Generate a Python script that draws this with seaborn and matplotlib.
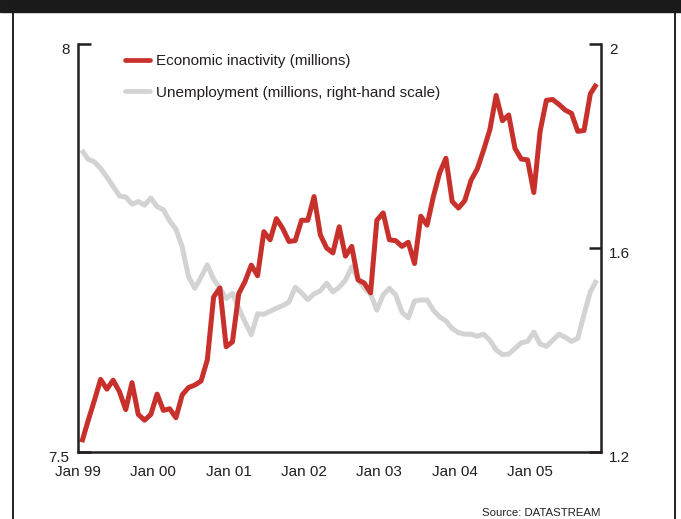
import numpy as np
import pandas as pd
import matplotlib
matplotlib.use("Agg")
import matplotlib.pyplot as plt
import seaborn as sns
from matplotlib.lines import Line2D
from matplotlib.patches import Rectangle
from matplotlib.transforms import ScaledTranslation

# ---- data (monthly, Jan 99 .. Nov 05) ----
inactivity = [7.512, 7.538, 7.563, 7.589, 7.577, 7.588, 7.574, 7.552, 7.585, 7.546,
              7.539, 7.546, 7.571, 7.551, 7.553, 7.542, 7.570, 7.579, 7.582, 7.587,
              7.613, 7.690, 7.701, 7.629, 7.635, 7.694, 7.709, 7.729, 7.716, 7.770,
              7.760, 7.786, 7.774, 7.758, 7.759, 7.784, 7.784, 7.813, 7.766, 7.750,
              7.744, 7.776, 7.740, 7.752, 7.711, 7.707, 7.695, 7.784, 7.793, 7.760,
              7.759, 7.752, 7.757, 7.731, 7.789, 7.778, 7.813, 7.842, 7.860, 7.807,
              7.799, 7.808, 7.833, 7.847, 7.870, 7.895, 7.937, 7.906, 7.913, 7.872,
              7.859, 7.858, 7.818, 7.893, 7.931, 7.932, 7.926, 7.919, 7.915, 7.893,
              7.894, 7.939, 7.951]
unemployment = [1.792, 1.774, 1.769, 1.756, 1.739, 1.721, 1.702, 1.700, 1.686, 1.691,
                1.684, 1.698, 1.681, 1.675, 1.653, 1.637, 1.602, 1.544, 1.521, 1.543,
                1.567, 1.539, 1.521, 1.501, 1.511, 1.482, 1.455, 1.430, 1.471, 1.470,
                1.476, 1.482, 1.487, 1.494, 1.523, 1.512, 1.499, 1.510, 1.516, 1.531,
                1.514, 1.523, 1.537, 1.563, 1.539, 1.521, 1.510, 1.478, 1.508, 1.521,
                1.508, 1.474, 1.463, 1.496, 1.498, 1.498, 1.478, 1.465, 1.457, 1.442,
                1.434, 1.431, 1.431, 1.427, 1.431, 1.419, 1.400, 1.391, 1.392, 1.403,
                1.414, 1.417, 1.435, 1.412, 1.407, 1.419, 1.431, 1.425, 1.417, 1.423,
                1.470, 1.514, 1.537]
month_index = np.arange(len(inactivity))
tick_labels = ["Jan 99", "Jan 00", "Jan 01", "Jan 02", "Jan 03", "Jan 04", "Jan 05"]
left_ticks = [7.5, 8.0]
left_tick_labels = ["7.5", "8"]
right_ticks = [1.2, 1.6, 2.0]
right_tick_labels = ["1.2", "1.6", "2"]
series_names = ["Economic inactivity (millions)", "Unemployment (millions, right-hand scale)"]
source_text = "Source: DATASTREAM"

df = pd.DataFrame({"month": month_index, "inactivity": inactivity, "unemployment": unemployment})

sns.set_style("white")
plt.rcParams["font.family"] = ["Liberation Sans", "DejaVu Sans"]

INK = "#231f20"
RED = "#c8302c"
GREY = "#d3d3d3"

fig = plt.figure(figsize=(6.81, 5.19), dpi=100)
ax = fig.add_axes([78 / 681, 1 - 452 / 519, (601 - 78) / 681, (452 - 44) / 519])
ax2 = ax.twinx()

sns.lineplot(data=df, x="month", y="unemployment", ax=ax2, color=GREY, linewidth=3.6)
sns.lineplot(data=df, x="month", y="inactivity", ax=ax, color=RED, linewidth=3.6)
for l in ax.lines + ax2.lines:
    l.set_solid_joinstyle("round")
    l.set_solid_capstyle("butt")

ax.set_zorder(ax2.get_zorder() + 1)
ax.patch.set_visible(False)

xticks = [12 * k - 0.6 for k in range(len(tick_labels))]
ax.set_xlim(-0.6, 82.7)
ax.set_ylim(7.5, 8.0)
ax2.set_ylim(1.2, 2.0)
ax.set_xticks(xticks)
ax.set_xticklabels(tick_labels)
ax.set_yticks(left_ticks)
ax.set_yticklabels(left_tick_labels)
ax2.set_yticks(right_ticks)
ax2.set_yticklabels(right_tick_labels)
for a in (ax, ax2):
    a.set_xlabel("")
    a.set_ylabel("")

ax.tick_params(axis="x", direction="in", length=6.5, width=1.8, color=INK, pad=9,
               labelsize=11, labelcolor=INK)
ax.tick_params(axis="y", direction="in", length=9, width=1.8, color=INK, pad=6,
               labelsize=11, labelcolor=INK)
ax2.tick_params(axis="y", direction="in", length=9, width=1.8, color=INK, pad=6,
                labelsize=11, labelcolor=INK)

for a in (ax, ax2):
    a.spines["top"].set_visible(False)
    for s in ("left", "right", "bottom"):
        a.spines[s].set_color(INK)
        a.spines[s].set_linewidth(1.8)
ax.spines["right"].set_visible(False)
ax2.spines["left"].set_visible(False)
ax2.spines["bottom"].set_visible(False)

off = ScaledTranslation(0, -3 / 72, fig.dpi_scale_trans)
for lab in ax.get_yticklabels() + ax2.get_yticklabels():
    lab.set_transform(lab.get_transform() + off)

handles = [Line2D([], [], color=RED, linewidth=3.4, solid_capstyle="round"),
           Line2D([], [], color=GREY, linewidth=3.4, solid_capstyle="round")]
leg = ax.legend(handles, series_names, loc="upper left", bbox_to_anchor=(0.09, 0.975),
                frameon=False, fontsize=11, handlelength=1.6, handletextpad=0.45,
                labelspacing=1.15, borderpad=0, borderaxespad=0)
for t in leg.get_texts():
    t.set_color(INK)

# frame and top band
fig.add_artist(Rectangle((0, 1 - 12 / 519), 1, 12 / 519, transform=fig.transFigure,
                         color="#1a1a1a", zorder=10))
fig.add_artist(Line2D([12.5 / 681] * 2, [0, 1], transform=fig.transFigure, color=INK, lw=1.4))
fig.add_artist(Line2D([675 / 681] * 2, [0, 1], transform=fig.transFigure, color=INK, lw=1.4))

fig.text(600 / 681, 1 - 513 / 519, source_text, ha="right", va="center",
         fontsize=8.2, color=INK, family=["Liberation Sans Narrow", "Liberation Sans", "DejaVu Sans"])

fig.savefig("out.png", dpi=100)
